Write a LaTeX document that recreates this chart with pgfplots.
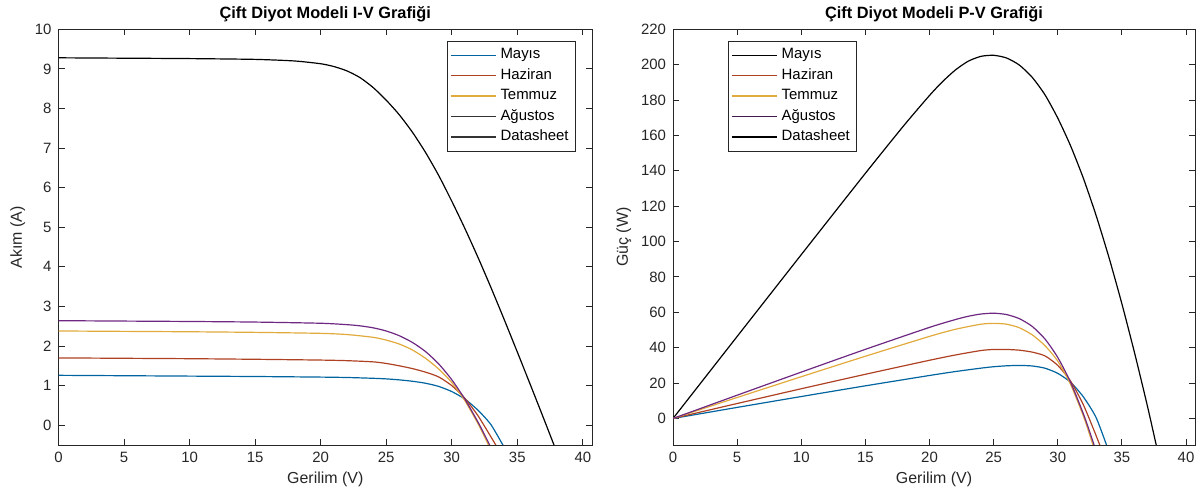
\documentclass[border=0pt]{standalone}
\usepackage{pgfplots}
\pgfplotsset{compat=1.18}
\usepackage{fontspec}
\setmainfont{Liberation Sans}

\definecolor{cMay}{RGB}{0,100,160}
\definecolor{cHaz}{RGB}{175,65,35}
\definecolor{cTem}{RGB}{225,170,60}
\definecolor{cAgu}{RGB}{110,40,130}
\definecolor{axgray}{RGB}{38,38,38}

% I-V data (V, I)
\pgfplotstableread{
V I
0 9.28
5 9.27
10 9.26
15 9.24
18 9.20
20 9.13
21 9.06
22 8.95
23 8.78
24 8.53
25 8.21
26 7.84
27 7.40
28 6.89
29 6.31
30 5.66
31 4.97
32 4.24
33 3.47
34 2.67
35 1.85
36 1.02
37 0.18
38 -0.67
}\ivdata
\pgfplotstableread{
V I
0 1.26
5 1.25
10 1.24
15 1.23
20 1.215
22 1.205
24 1.185
25 1.17
26 1.145
27 1.11
28 1.06
29 0.98
30 0.85
31 0.66
32 0.38
33 0.01
34 -0.56
}\ivmay
\pgfplotstableread{
V I
0 1.70
5 1.69
10 1.68
15 1.665
20 1.645
22 1.63
24 1.60
25 1.56
26 1.50
27 1.43
28 1.34
29 1.22
30 1.00
31 0.68
32 0.24
33 -0.30
33.5 -0.58
}\ivhaz
\pgfplotstableread{
V I
0 2.38
5 2.37
10 2.36
15 2.345
20 2.32
22 2.29
24 2.22
25 2.15
26 2.05
27 1.90
28 1.69
29 1.42
30 1.08
31 0.62
32 0.04
32.6 -0.36
33 -0.64
}\ivtem
\pgfplotstableread{
V I
0 2.64
5 2.63
10 2.62
15 2.605
20 2.575
22 2.54
23 2.51
24 2.46
25 2.38
26 2.26
27 2.09
28 1.86
29 1.55
30 1.15
31 0.66
32 0.08
32.5 -0.24
33 -0.57
}\ivagu

% P-V data (V, P)
\pgfplotstableread{
V P
0 0
5 46.35
10 92.6
15 138.6
18 165.6
20 182.6
21 190.3
22 196.9
23 201.9
24 204.7
25 205.3
26 203.8
27 199.8
28 192.9
29 183.0
30 169.8
31 154.1
32 135.7
33 114.5
34 90.8
35 64.8
36 36.7
37 6.7
38 -25.5
}\pvdata
\pgfplotstableread{
V P
0 0
5 6.25
10 12.4
15 18.45
20 24.3
22 26.51
24 28.44
25 29.25
26 29.77
27 29.97
28 29.68
29 28.42
30 25.5
31 20.46
32 12.16
33 0.33
34 -19.04
}\pvmay
\pgfplotstableread{
V P
0 0
5 8.45
10 16.8
15 24.98
20 32.9
22 35.86
24 38.4
25 39.0
26 39.0
27 38.61
28 37.52
29 35.38
30 30.0
31 21.08
32 7.68
33 -9.9
33.5 -19.43
}\pvhaz
\pgfplotstableread{
V P
0 0
5 11.85
10 23.6
15 35.18
20 46.4
22 50.38
24 53.28
25 53.75
26 53.3
27 51.3
28 47.32
29 41.18
30 32.4
31 19.22
32 1.28
32.6 -11.74
33 -21.12
}\pvtem
\pgfplotstableread{
V P
0 0
5 13.15
10 26.2
15 39.08
20 51.5
22 55.88
23 57.73
24 59.04
25 59.5
26 58.76
27 56.43
28 52.08
29 44.95
30 34.5
31 20.46
32 2.56
32.5 -7.8
33 -18.81
}\pvagu

\pgfplotsset{
  mlab/.style={
    scale only axis,
    anchor=south west,
    height=207.85bp,
    xmin=0, xmax=40.7,
    xtick={0,5,...,40},
    tick align=inside,
    major tick length=3bp,
    axis line style={axgray, line width=0.5pt},
    every tick/.style={axgray, line width=0.5pt},
    tick label style={font=\fontsize{7.5}{9}\selectfont, text=axgray},
    /pgf/number format/assume math mode=true,
    label style={font=\fontsize{8}{9.5}\selectfont, text=axgray},
    title style={font=\fontsize{8.2}{9.5}\selectfont\bfseries, yshift=-6bp},
    xlabel={Gerilim (V)},
    xlabel style={yshift=2bp},
    ylabel style={yshift=-2bp},
    legend style={draw=axgray, line width=0.4pt, fill=white,
      font=\fontsize{7.5}{9}\selectfont, inner sep=1.5bp, row sep=-0.6bp},
    legend cell align=left,
    legend image code/.code={\draw[#1, line width=0.65pt] (0bp,0bp) -- (22.5bp,0bp);},
    every axis plot/.append style={line width=0.6pt, smooth, tension=0.4},
  },
}

\begin{document}
\begin{tikzpicture}
\path[use as bounding box] (0,0) rectangle (600.5bp,250.5bp);

\begin{axis}[mlab,
  at={(29.25bp,28bp)}, width=266.75bp,
  ymin=-0.5, ymax=10, ytick={0,1,...,10},
  ylabel={Akım (A)},
  title={Çift Diyot Modeli I-V Grafiği},
  legend style={at={(1,1)}, anchor=north east, xshift=-8bp, yshift=-6bp},
  legend entries={Mayıs, Haziran, Temmuz, Ağustos, Datasheet},
]
\addlegendimage{cMay}
\addlegendimage{cHaz}
\addlegendimage{cTem}
\addlegendimage{black!80}
\addlegendimage{black!80}
\addplot[black, forget plot] table[x=V, y=I] {\ivdata};
\addplot[cMay, forget plot] table[x=V, y=I] {\ivmay};
\addplot[cHaz, forget plot] table[x=V, y=I] {\ivhaz};
\addplot[cTem, forget plot] table[x=V, y=I] {\ivtem};
\addplot[cAgu, forget plot] table[x=V, y=I] {\ivagu};
\end{axis}

\begin{axis}[mlab,
  at={(336.5bp,28bp)}, width=261bp,
  ymin=-15, ymax=220, ytick={0,20,...,220},
  ylabel={Güç (W)},
  title={Çift Diyot Modeli P-V Grafiği},
  legend style={at={(0,1)}, anchor=north west, xshift=27.5bp, yshift=-6bp},
  legend entries={Mayıs, Haziran, Temmuz, Ağustos, Datasheet},
]
\addlegendimage{black}
\addlegendimage{cHaz}
\addlegendimage{cTem}
\addlegendimage{cAgu!60!black}
\addlegendimage{black}
\addplot[black, forget plot] table[x=V, y=P] {\pvdata};
\addplot[cMay, forget plot] table[x=V, y=P] {\pvmay};
\addplot[cHaz, forget plot] table[x=V, y=P] {\pvhaz};
\addplot[cTem, forget plot] table[x=V, y=P] {\pvtem};
\addplot[cAgu, forget plot] table[x=V, y=P] {\pvagu};
\end{axis}
\end{tikzpicture}
\end{document}
